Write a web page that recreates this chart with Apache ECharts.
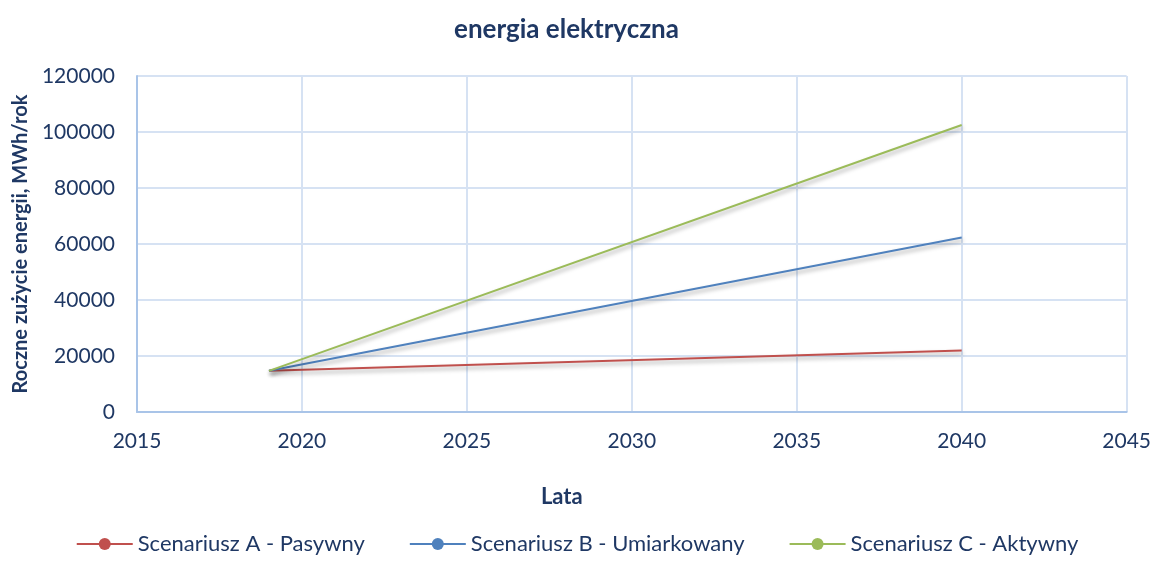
<!DOCTYPE html>
<html>
<head>
<meta charset="utf-8">
<script src="https://cdn.jsdelivr.net/npm/echarts@6/dist/echarts.min.js"></script>
<style>
  html, body { margin: 0; padding: 0; background: #fff; }
  #chart { width: 1154px; height: 563px; }
</style>
</head>
<body>
<div id="chart"></div>
<script>
// data
var years = [2019, 2040];
var scenarioA = [14700, 22000];
var scenarioB = [14700, 62300];
var scenarioC = [14700, 102500];
var seriesNames = ['Scenariusz A - Pasywny', 'Scenariusz B - Umiarkowany', 'Scenariusz C - Aktywny'];
var seriesColors = ['#c0504d', '#4f81bd', '#9bbb59'];

var textColor = '#1f3864';
var font = 'Lato, "Open Sans", sans-serif';

function pairs(vals) {
  return years.map(function (y, i) { return [y, vals[i]]; });
}

function lineSeries(idx, vals) {
  return {
    name: seriesNames[idx],
    type: 'line',
    data: pairs(vals),
    symbol: 'circle',
    symbolSize: 14,
    showSymbol: false,
    color: seriesColors[idx],
    lineStyle: {
      width: 2,
      shadowColor: 'rgba(0,0,0,0.35)',
      shadowBlur: 4,
      shadowOffsetY: 3,
      shadowOffsetX: 1
    },
    emphasis: { disabled: true }
  };
}

var chart = echarts.init(document.getElementById('chart'));
chart.setOption({
  animation: false,
  textStyle: { fontFamily: font },
  title: {
    text: 'energia elektryczna',
    left: 449,
    top: 12,
    textStyle: { color: textColor, fontSize: 26, fontWeight: 'bold', fontFamily: font }
  },
  grid: { left: 137, right: 26, top: 76, bottom: 151 },
  xAxis: {
    type: 'value',
    min: 2015,
    max: 2045,
    interval: 5,
    name: 'Lata',
    nameLocation: 'middle',
    nameGap: 74,
    nameTextStyle: { color: textColor, fontSize: 22, fontWeight: 'bold', padding: [0, 140, 0, 0] },
    axisLine: { show: true, lineStyle: { color: '#a9c4e8', width: 2 } },
    axisTick: { show: false },
    axisLabel: { color: textColor, fontSize: 21, margin: 19, formatter: function (v) { return String(v); } },
    splitLine: { show: true, lineStyle: { color: '#d6e2f3', width: 2 } }
  },
  yAxis: {
    type: 'value',
    min: 0,
    max: 120000,
    interval: 20000,
    name: 'Roczne zużycie energii, MWh/rok',
    nameLocation: 'middle',
    nameGap: 105,
    nameTextStyle: { color: textColor, fontSize: 20, fontWeight: 'bold' },
    axisLine: { show: true, lineStyle: { color: '#a9c4e8', width: 2 } },
    axisTick: { show: false },
    axisLabel: { color: textColor, fontSize: 21, margin: 22, formatter: function (v) { return String(v); } },
    splitLine: { show: true, lineStyle: { color: '#d6e2f3', width: 2 } }
  },
  legend: {
    bottom: 3,
    left: 'center',
    itemGap: 44,
    itemWidth: 56,
    itemHeight: 15,
    textStyle: { color: textColor, fontSize: 22 },
    data: seriesNames
  },
  series: [
    lineSeries(0, scenarioA),
    lineSeries(1, scenarioB),
    lineSeries(2, scenarioC)
  ]
});
</script>
</body>
</html>
